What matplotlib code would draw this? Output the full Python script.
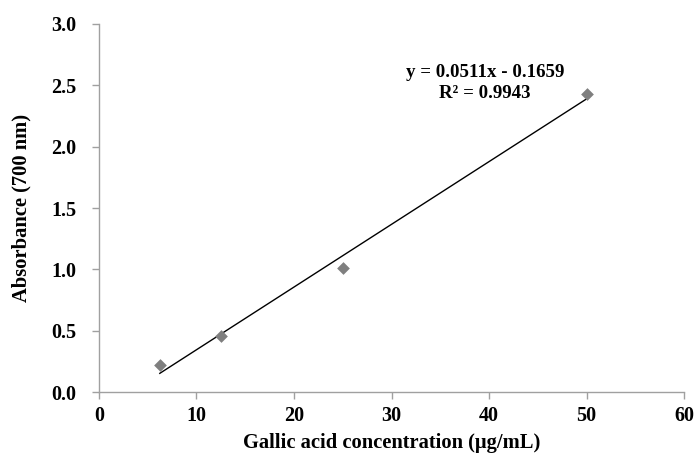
import numpy as np
import matplotlib.pyplot as plt

# data
conc = [6.25, 12.5, 25, 50]
absorb = [0.22, 0.46, 1.01, 2.43]
slope = 0.0511
intercept = -0.1659
r2 = 0.9943

xticks = [0, 10, 20, 30, 40, 50, 60]
yticks = [0.0, 0.5, 1.0, 1.5, 2.0, 2.5, 3.0]

plt.rcParams['font.family'] = ['Liberation Serif', 'DejaVu Serif']
plt.rcParams['font.weight'] = 'bold'

fig = plt.figure(figsize=(6.96, 4.68), dpi=100)
ax = fig.add_axes([0.142, 0.162, 0.841, 0.787])

xfit = np.array([min(conc), max(conc)])
ax.plot(xfit, slope * xfit + intercept, color='black', lw=1.0, zorder=2)
ax.scatter(conc, absorb, marker='D', s=42, color='#7f7f7f', zorder=3, linewidths=0)

ax.set_xlim(0, 60)
ax.set_ylim(0, 3.0)
ax.set_xticks(xticks)
ax.set_yticks(yticks)
ax.set_yticklabels([f'{v:.1f}' for v in yticks])
ax.tick_params(direction='out', length=5, width=1, color='#a0a0a0', labelsize=14.5)
ax.tick_params(axis='x', pad=5)
ax.tick_params(axis='y', pad=11)
for lab in ax.get_xticklabels() + ax.get_yticklabels():
    lab.set_fontweight('bold')

for s in ['top', 'right']:
    ax.spines[s].set_visible(False)
for s in ['left', 'bottom']:
    ax.spines[s].set_color('#a0a0a0')
    ax.spines[s].set_linewidth(1)

ax.set_xlabel('Gallic acid concentration (µg/mL)', fontsize=14.8, fontweight='bold')
ax.set_ylabel('Absorbance (700 nm)', fontsize=14.8, fontweight='bold')
ax.xaxis.set_label_coords(0.5, -0.11)
ax.yaxis.set_label_coords(-0.115, 0.5)

sign = '-' if intercept < 0 else '+'
ax.text(0.66, 0.84, f'y = {slope:.4f}x {sign} {abs(intercept):.4f}\nR² = {r2:.4f}',
        transform=ax.transAxes, ha='center', va='center', fontsize=13.6,
        fontweight='bold', linespacing=1.3)

fig.savefig('out.png', dpi=100)
